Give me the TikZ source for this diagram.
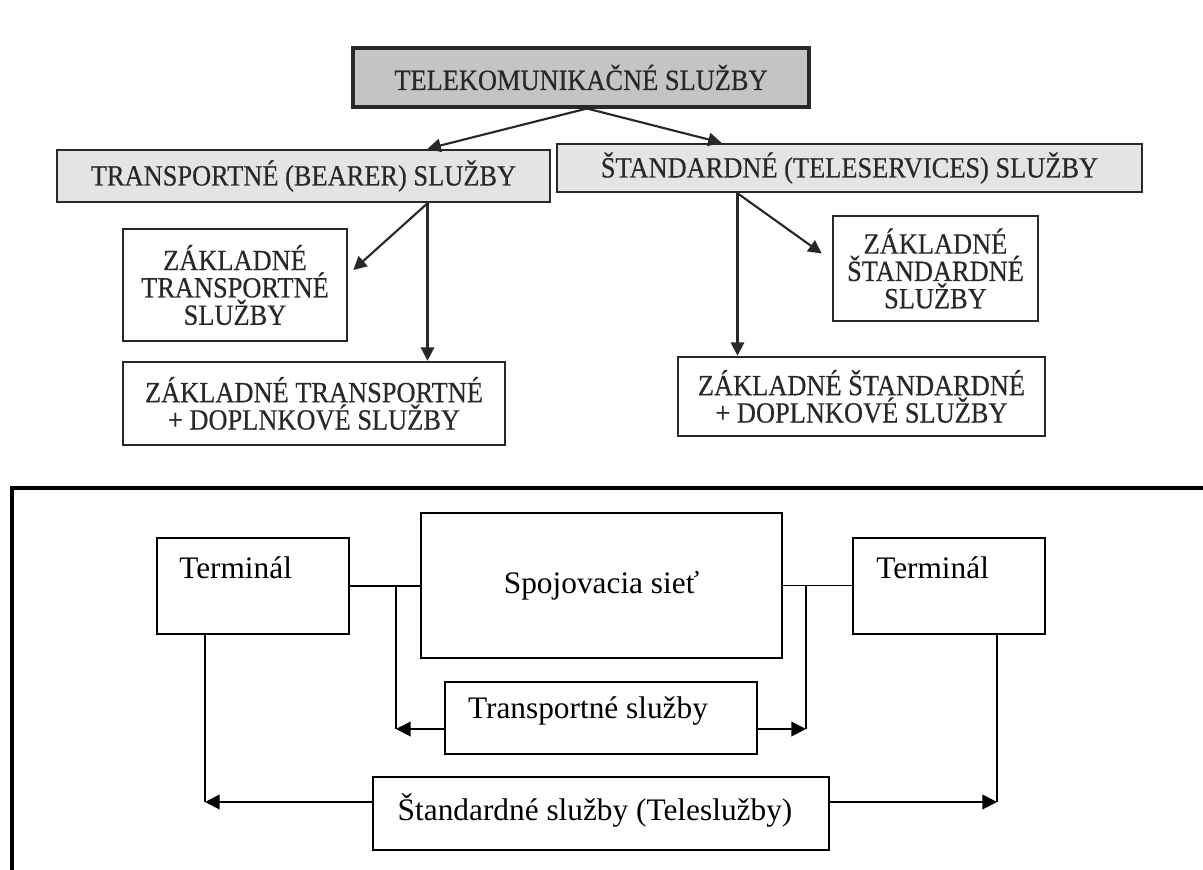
\documentclass[tikz,border=0pt]{standalone}
\usepackage{fontspec}
\setmainfont{Liberation Serif}
\newfontfamily\scanfont[FakeStretch=0.9,FakeBold=0.4]{Liberation Serif}
\usepackage{tikz}
\usetikzlibrary{arrows.meta,calc}
\usepackage{xcolor}
\definecolor{scanink}{RGB}{40,40,40}
\definecolor{scandark}{RGB}{196,196,196}
\definecolor{scanlight}{RGB}{228,228,228}

\begin{document}
\begin{tikzpicture}[x=0.75pt,y=0.75pt,yscale=-1,xscale=1,
  scanbox/.style={draw=scanink,line width=1.9pt,inner sep=2pt,align=center,
    font=\scanfont\fontsize{22}{20.5}\selectfont,text=scanink},
  scanarrow/.style={draw=scanink,line width=1.6pt,-{Triangle[length=10pt,width=10pt]}},
  plainbox/.style={draw=black,line width=1.5pt,inner sep=0pt,
    font=\fontsize{23.5}{26}\selectfont},
  plainline/.style={draw=black,line width=1.4pt},
  plainarrow/.style={plainline,-{Triangle[length=11pt,width=11pt]}}]
\useasboundingbox (0,0) rectangle (1203,870);

%Shape: Rectangle [upper scheme]
\node [scanbox,fill=scandark,line width=2.3pt,minimum width=342pt,minimum height=44.25pt] (tel) at (581,77.5) {TELEKOMUNIKAČNÉ SLUŽBY};
\node [scanbox,fill=scanlight,minimum width=369.75pt,minimum height=39pt] (bearer) at (303.5,176) {TRANSPORTNÉ (BEARER) SLUŽBY};
\node [scanbox,fill=scanlight,minimum width=438.75pt,minimum height=36pt] (telesvc) at (849.5,168) {ŠTANDARDNÉ (TELESERVICES) SLUŽBY};
\node [scanbox,fill=white,minimum width=168pt,minimum height=84pt] (zts) at (235,285) {ZÁKLADNÉ\\TRANSPORTNÉ\\SLUŽBY};
\node [scanbox,fill=white,minimum width=286.5pt,minimum height=62.25pt] (ztd) at (314,403.5) {ZÁKLADNÉ TRANSPORTNÉ\\+ DOPLNKOVÉ SLUŽBY};
\node [scanbox,fill=white,minimum width=153.75pt,minimum height=78.75pt] (zss) at (935.5,268.5) {ZÁKLADNÉ\\ŠTANDARDNÉ\\SLUŽBY};
\node [scanbox,fill=white,minimum width=275.25pt,minimum height=59.25pt] (zsd) at (861.5,396.5) {ZÁKLADNÉ ŠTANDARDNÉ\\+ DOPLNKOVÉ SLUŽBY};

%Straight Lines [upper scheme]
\coordinate (apex) at ($(tel.south)+(6,0)$);
\draw [scanarrow] (apex) -- ($(bearer.north)+(124,0)$);
\draw [scanarrow] (apex) -- ($(telesvc.north)+(-128,0)$);
\coordinate (bo) at ($(bearer.south)+(124,0)$);
\draw [scanarrow] (bo) -- ($(zts.east)+(5,-15)$);
\draw [scanarrow] (bo) -- (bo |- ztd.north);
\coordinate (so) at ($(telesvc.south)+(-112,0)$);
\draw [scanarrow] (so) -- ($(zss.west)+(-10,-15)$);
\draw [scanarrow] (so) -- (so |- zsd.north);

%Shape: Frame [lower scheme]
\draw [black,line width=2.3pt] (1203,488) -- (12,488) -- (12,870);

%Shape: Rectangle [lower scheme]
\node [plainbox,minimum width=144pt,minimum height=72pt] (termL) at (253,586) {};
\node [plainbox,minimum width=144pt,minimum height=72pt] (termR) at (949,586) {};
\node [plainbox,minimum width=270.75pt,minimum height=108.75pt] (spoj) at (601.5,585.5) {Spojovacia sieť};
\node [plainbox,minimum width=234pt,minimum height=54pt] (trans) at (601,718) {};
\node [plainbox,minimum width=342pt,minimum height=54.75pt] (std) at (601,813.5) {};

% Text Node
\node [font=\fontsize{23.5}{26}\selectfont,anchor=west,inner sep=0pt] (termLtext) at ($(termL.west)+(23,-18)$) {Terminál};
\node [font=\fontsize{23.5}{26}\selectfont,anchor=west,inner sep=0pt] (termRtext) at ($(termR.west)+(24,-18)$) {Terminál};
\node [font=\fontsize{23.5}{26}\selectfont,inner sep=0pt] (transtext) at ($(trans.center)+(-13,-7)$) {Transportné služby};
\node [font=\fontsize{23.5}{26}\selectfont,inner sep=0pt] (stdtext) at ($(std.center)+(-6,-3)$) {Štandardné služby (Teleslužby)};

%Straight Lines [lower scheme]
\draw [plainline] (termL.east) -- (termL.east -| spoj.west);
\draw [plainline] (spoj.east) -- (spoj.east -| termR.west);
\coordinate (jL) at ($(spoj.west)+(-24,0)$);
\coordinate (jR) at ($(spoj.east)+(23,0)$);
\coordinate (tL) at ($(trans.west)+(0,11)$);
\coordinate (tR) at ($(trans.east)+(0,11)$);
\draw [plainline] (jL) -- (jL |- tL);
\draw [plainarrow] (tL) -- (jL |- tL);
\draw [plainline] (jR) -- (jR |- tR);
\draw [plainarrow] (tR) -- (jR |- tR);
\coordinate (dL) at ($(termL.south)+(-48,0)$);
\coordinate (dR) at ($(termR.south)+(48,0)$);
\coordinate (sL) at ($(std.west)+(0,-11.5)$);
\coordinate (sR) at ($(std.east)+(0,-11.5)$);
\draw [plainline] (dL) -- (dL |- sL);
\draw [plainarrow] (sL) -- (dL |- sL);
\draw [plainline] (dR) -- (dR |- sR);
\draw [plainarrow] (sR) -- (dR |- sR);

\end{tikzpicture}
\end{document}
